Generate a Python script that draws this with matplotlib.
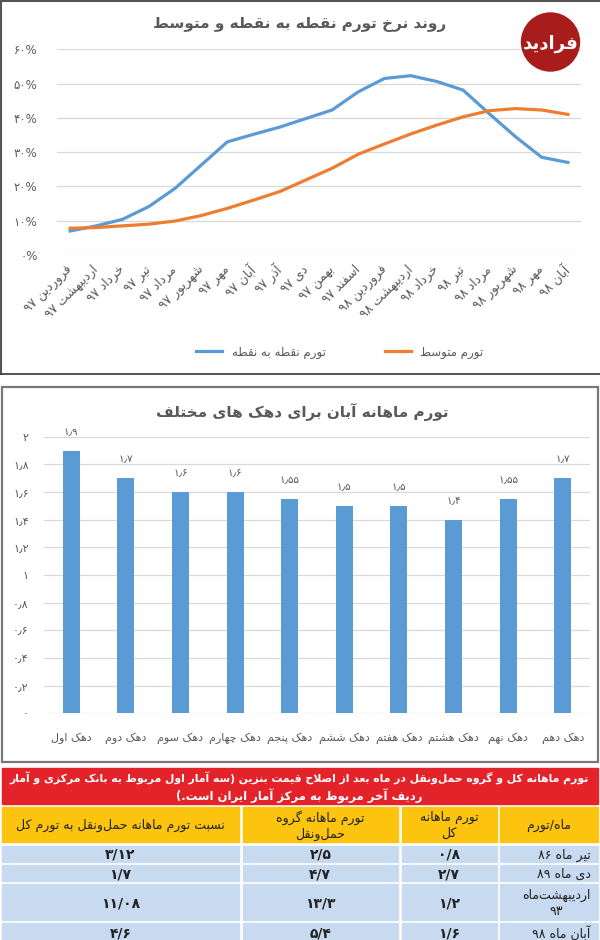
import re
import matplotlib
matplotlib.use('Agg')
import matplotlib.pyplot as plt
from matplotlib.patches import Rectangle, Circle

plt.rcParams['font.family'] = ['DejaVu Sans']

# ---------------- data ----------------
months = ['فروردین ۹۷', 'اردیبهشت ۹۷', 'خرداد ۹۷', 'تیر ۹۷', 'مرداد ۹۷', 'شهریور ۹۷',
          'مهر ۹۷', 'آبان ۹۷', 'آذر ۹۷', 'دی ۹۷', 'بهمن ۹۷', 'اسفند ۹۷',
          'فروردین ۹۸', 'اردیبهشت ۹۸', 'خرداد ۹۸', 'تیر ۹۸', 'مرداد ۹۸', 'شهریور ۹۸',
          'مهر ۹۸', 'آبان ۹۸']
spot_infl = [7.0, 8.5, 10.4, 14.1, 19.4, 26.2, 33.0, 35.2, 37.3, 39.8, 42.3, 47.6,
             51.5, 52.3, 50.6, 48.1, 41.2, 34.5, 28.5, 27.0]
avg_infl = [7.8, 8.0, 8.5, 9.0, 9.9, 11.5, 13.6, 16.0, 18.5, 21.9, 25.3, 29.4,
            32.4, 35.3, 37.9, 40.3, 42.1, 42.7, 42.3, 41.0]
line_title = 'روند نرخ تورم نقطه به نقطه و متوسط'
spot_label = 'تورم نقطه به نقطه'
avg_label = 'تورم متوسط'

deciles = ['دهک اول', 'دهک دوم', 'دهک سوم', 'دهک چهارم', 'دهک پنجم',
           'دهک ششم', 'دهک هفتم', 'دهک هشتم', 'دهک نهم', 'دهک دهم']
aban_infl = [1.9, 1.7, 1.6, 1.6, 1.55, 1.5, 1.5, 1.4, 1.55, 1.7]
bar_title = 'تورم ماهانه آبان برای دهک های مختلف'

tbl_title = ['تورم ماهانه کل و گروه حمل‌ونقل در ماه بعد از اصلاح قیمت بنزین (سه آمار اول مربوط به بانک مرکزی و آمار',
             'ردیف آخر مربوط به مرکز آمار ایران است.)']
tbl_heads = ['ماه/تورم', 'تورم ماهانه\nکل', 'تورم ماهانه گروه\nحمل‌ونقل',
             'نسبت تورم ماهانه حمل‌ونقل به تورم کل']
tbl_months = ['تیر ماه ۸۶', 'دی ماه ۸۹', 'اردیبهشت‌ماه\n۹۳', 'آبان ماه ۹۸']
total_infl = [0.8, 2.7, 1.2, 1.6]
transport_infl = [2.5, 4.7, 13.3, 5.4]
transport_ratio = [3.12, 1.7, 11.08, 4.6]

# ------------- persian text helpers (no shaping engine in matplotlib) -------------
_F = {
    'آ': 'FE81 FE82', 'ا': 'FE8D FE8E', 'ب': 'FE8F FE90 FE91 FE92', 'پ': 'FB56 FB57 FB58 FB59',
    'ت': 'FE95 FE96 FE97 FE98', 'ث': 'FE99 FE9A FE9B FE9C', 'ج': 'FE9D FE9E FE9F FEA0',
    'چ': 'FB7A FB7B FB7C FB7D', 'ح': 'FEA1 FEA2 FEA3 FEA4', 'خ': 'FEA5 FEA6 FEA7 FEA8',
    'د': 'FEA9 FEAA', 'ذ': 'FEAB FEAC', 'ر': 'FEAD FEAE', 'ز': 'FEAF FEB0', 'ژ': 'FB8A FB8B',
    'س': 'FEB1 FEB2 FEB3 FEB4', 'ش': 'FEB5 FEB6 FEB7 FEB8', 'ص': 'FEB9 FEBA FEBB FEBC',
    'ض': 'FEBD FEBE FEBF FEC0', 'ط': 'FEC1 FEC2 FEC3 FEC4', 'ظ': 'FEC5 FEC6 FEC7 FEC8',
    'ع': 'FEC9 FECA FECB FECC', 'غ': 'FECD FECE FECF FED0', 'ف': 'FED1 FED2 FED3 FED4',
    'ق': 'FED5 FED6 FED7 FED8', 'ک': 'FB8E FB8F FB90 FB91', 'گ': 'FB92 FB93 FB94 FB95',
    'ل': 'FEDD FEDE FEDF FEE0', 'م': 'FEE1 FEE2 FEE3 FEE4', 'ن': 'FEE5 FEE6 FEE7 FEE8',
    'و': 'FEED FEEE', 'ه': 'FEE9 FEEA FEEB FEEC', 'ی': 'FBFC FBFD FBFE FBFF',
}
FORMS = {k: [chr(int(c, 16)) for c in v.split()] for k, v in _F.items()}
LAM_ALEF = {'ا': ('\uFEFB', '\uFEFC'), 'آ': ('\uFEF5', '\uFEF6')}
NUM = re.compile(r'([0-9\u06F0-\u06F9][0-9\u06F0-\u06F9/\u066B.,%]*)')
MIRROR = str.maketrans('()', ')(')
FA_DIGITS = str.maketrans('0123456789', '۰۱۲۳۴۵۶۷۸۹')


def joins_next(c):
    return c in FORMS and len(FORMS[c]) == 4


def shape(s):
    s = s.replace('ي', 'ی').replace('ك', 'ک')
    out = []
    i = 0
    while i < len(s):
        c = s[i]
        if c not in FORMS:
            if c != '\u200c':
                out.append(c)
            i += 1
            continue
        jp = i > 0 and joins_next(s[i - 1])
        if c == 'ل' and i + 1 < len(s) and s[i + 1] in LAM_ALEF:
            out.append(LAM_ALEF[s[i + 1]][1 if jp else 0])
            i += 2
            continue
        jn = joins_next(c) and i + 1 < len(s) and s[i + 1] in FORMS
        f = FORMS[c]
        out.append(f[3] if jp and jn else f[1] if jp else f[2] if jn else f[0])
        i += 1
    return ''.join(out)


def fa(s):
    lines = []
    for line in s.split('\n'):
        parts = NUM.split(shape(line))
        vis = [p if NUM.fullmatch(p) else p[::-1].translate(MIRROR) for p in reversed(parts)]
        lines.append(''.join(vis))
    return '\n'.join(lines)


def fa_num(v, sep):
    return ('%g' % v).translate(FA_DIGITS).replace('.', sep)


W, H = 600, 940
GRAY = '#595959'
GRID = '#d9d9d9'
BLUE = '#5b9bd5'
ORANGE = '#ed7d31'


def rect(l, t, r, b):
    return [l / W, 1 - b / H, (r - l) / W, (b - t) / H]


fig = plt.figure(figsize=(6, 9.4), dpi=100)

# ---------------- line chart ----------------
ax1 = fig.add_axes(rect(57, 49.3, 581, 255))
ax1.set_facecolor('none')
x = list(range(len(months)))
ax1.plot(x, spot_infl, color=BLUE, lw=2.3, solid_joinstyle='round', label=fa(spot_label))
ax1.plot(x, avg_infl, color=ORANGE, lw=2.3, solid_joinstyle='round', label=fa(avg_label))
ax1.set_xlim(-0.5, len(months) - 0.5)
ax1.set_ylim(0, 60)
ax1.set_yticks(range(0, 61, 10))
ax1.set_yticklabels([(str(v) + '%').translate(FA_DIGITS) for v in range(0, 61, 10)],
                    fontsize=8.5, color=GRAY)
ax1.set_xticks(x)
ax1.set_xticklabels([fa(m) for m in months], rotation=45, ha='right', va='center',
                    rotation_mode='anchor', fontsize=9, color=GRAY)
ax1.tick_params(length=0)
ax1.tick_params(axis='y', pad=14)
ax1.tick_params(axis='x', pad=9)
ax1.grid(axis='y', color=GRID, lw=0.9)
ax1.set_axisbelow(True)
for s in ax1.spines.values():
    s.set_visible(False)
fig.text(300 / W, 1 - 25 / H, fa(line_title), ha='center', va='center',
         fontsize=11, fontweight='bold', color=GRAY)
fig.legend(loc='center', bbox_to_anchor=(340 / W, 1 - 352 / H), ncol=2, frameon=False,
           fontsize=8.5, labelcolor=GRAY, handlelength=2.2, columnspacing=5)

# ---------------- bar chart ----------------
ax2 = fig.add_axes(rect(44, 436.7, 590, 713.3))
ax2.set_facecolor('none')
xb = list(range(len(deciles)))
bars = ax2.bar(xb, aban_infl, width=0.31, color=BLUE, zorder=2)
ax2.bar_label(bars, labels=[fa_num(v, '\u066B') for v in aban_infl], padding=10,
              fontsize=7.5, color=GRAY)
ax2.set_xlim(-0.5, len(deciles) - 0.5)
ax2.set_ylim(0, 2)
yt = [i / 5 for i in range(11)]
ax2.set_yticks(yt)
ax2.set_yticklabels([fa_num(v, '\u066B') for v in yt], fontsize=8, color=GRAY)
ax2.set_xticks(xb)
ax2.set_xticklabels([fa(d) for d in deciles], fontsize=8, color=GRAY)
ax2.tick_params(length=0)
ax2.tick_params(axis='y', pad=11)
ax2.tick_params(axis='x', pad=14)
ax2.grid(axis='y', color=GRID, lw=0.9)
ax2.set_axisbelow(True)
for s in ax2.spines.values():
    s.set_visible(False)
fig.text(302 / W, 1 - 412 / H, fa(bar_title), ha='center', va='center',
         fontsize=11, fontweight='bold', color=GRAY)

# ---------------- frames, logo, table (pixel coords overlay) ----------------
top = fig.add_axes([0, 0, 1, 1])
top.set_xlim(0, W)
top.set_ylim(H, 0)
top.axis('off')
top.set_facecolor('none')

top.plot([0, W], [0.8, 0.8], color='#555555', lw=1.5)
top.plot([0.8, 0.8], [0, 374], color='#555555', lw=1.5)
top.plot([0, W], [373.5, 373.5], color='#444444', lw=1.3)
top.add_patch(Rectangle((1.5, 387), 596.2, 374.5, fill=False, ec='#777777', lw=1.6))

top.add_patch(Circle((550.5, 42), 29, color='#a81c1c', zorder=5))
top.text(550.5, 44, fa('فرادید'), ha='center', va='center', color='white',
         fontsize=13, fontweight='bold', zorder=6)

# red title band
top.add_patch(Rectangle((1.5, 768.3), 596.2, 36, color='#e4222a'))
top.text(299, 777.5, fa(tbl_title[0]), ha='center', va='center', color='white',
         fontsize=7.8, fontweight='bold')
top.text(299, 796.5, fa(tbl_title[1]), ha='center', va='center', color='white',
         fontsize=8.4, fontweight='bold')

# columns right-to-left: month, total, transport, ratio
col_x = [(500, 597.7), (401.7, 496.7), (242.7, 398), (1.5, 239.3)]
head_y = (806.7, 842.3)
row_y = [(845.7, 862.3), (865, 881), (884.3, 920.3), (923.3, 941)]

for (l, r), h in zip(col_x, tbl_heads):
    top.add_patch(Rectangle((l, head_y[0]), r - l, head_y[1] - head_y[0], color='#fcc30f'))
    top.text((l + r) / 2, (head_y[0] + head_y[1]) / 2 + 1, fa(h), ha='center', va='center',
             fontsize=9, color='#222222', linespacing=1.3)

for i, (t, b) in enumerate(row_y):
    cells = [tbl_months[i], fa_num(total_infl[i], '/'), fa_num(transport_infl[i], '/'),
             fa_num(transport_ratio[i], '/')]
    for j, ((l, r), c) in enumerate(zip(col_x, cells)):
        top.add_patch(Rectangle((l, t), r - l, b - t, color='#c7daef'))
        if j == 0:
            top.text(r - 7, (t + b) / 2 + 1, fa(c), ha='right', va='center', fontsize=9,
                     color='#222222', multialignment='center', linespacing=1.25)
        else:
            top.text((l + r) / 2, (t + b) / 2 + 1, c, ha='center', va='center',
                     fontsize=10, fontweight='bold', color='#222222')

fig.savefig('out.png', dpi=100, facecolor='white')
